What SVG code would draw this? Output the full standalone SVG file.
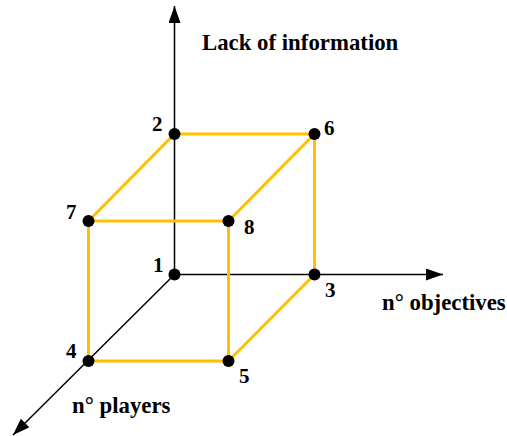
<svg xmlns="http://www.w3.org/2000/svg" width="507" height="436" viewBox="0 0 507 436">
<style>
.axis{stroke:#000;stroke-width:1.5;fill:none}
.edge{stroke:#FFC000;stroke-width:3;fill:none}
.dot{fill:#000}
.t{font-family:"Liberation Serif","Times New Roman",serif;font-weight:bold;font-size:22.8px;fill:#000}
.d{font-family:"Liberation Serif","Times New Roman",serif;font-weight:bold;font-size:21px;fill:#000}
</style>
<defs>
<marker id="ah" viewBox="0 0 17 12" refX="17" refY="6" markerWidth="17" markerHeight="12" markerUnits="userSpaceOnUse" orient="auto">
<path d="M0,0 L17,6 L0,12 Z" fill="#000"/>
</marker>
</defs>
<g id="connectors">
<line class="axis" x1="174.5" y1="274.5" x2="174.5" y2="6" marker-end="url(#ah)"/>
<line class="axis" x1="174.5" y1="274.5" x2="443" y2="274.5" marker-end="url(#ah)"/>
<line class="axis" x1="174.5" y1="274.5" x2="13" y2="435" marker-end="url(#ah)"/>
<polyline class="edge" points="88.5,221 174.5,134 314.5,134 228.5,221 88.5,221 88.5,361 228.5,361 228.5,221"/>
<polyline class="edge" points="314.5,134 314.5,274.5 228.5,361"/>
</g>
<g id="node1"><circle class="dot" cx="174.5" cy="274.5" r="6"/><text class="d" x="153" y="272">1</text></g>
<g id="node2"><circle class="dot" cx="174.5" cy="134" r="6"/><text class="d" x="152" y="131">2</text></g>
<g id="node3"><circle class="dot" cx="314.5" cy="274.5" r="6"/><text class="d" x="325" y="297">3</text></g>
<g id="node4"><circle class="dot" cx="88.5" cy="361" r="6"/><text class="d" x="66" y="358">4</text></g>
<g id="node5"><circle class="dot" cx="228.5" cy="361" r="6"/><text class="d" x="239" y="383">5</text></g>
<g id="node6"><circle class="dot" cx="314.5" cy="134" r="6"/><text class="d" x="324" y="135">6</text></g>
<g id="node7"><circle class="dot" cx="88.5" cy="221" r="6"/><text class="d" x="66" y="219">7</text></g>
<g id="node8"><circle class="dot" cx="228.5" cy="221" r="6"/><text class="d" x="244" y="234">8</text></g>
<g id="labels">
<text class="t" x="202" y="50">Lack of information</text>
<text class="t" x="382" y="310">n° objectives</text>
<text class="t" x="72" y="413">n° players</text>
</g>
</svg>
